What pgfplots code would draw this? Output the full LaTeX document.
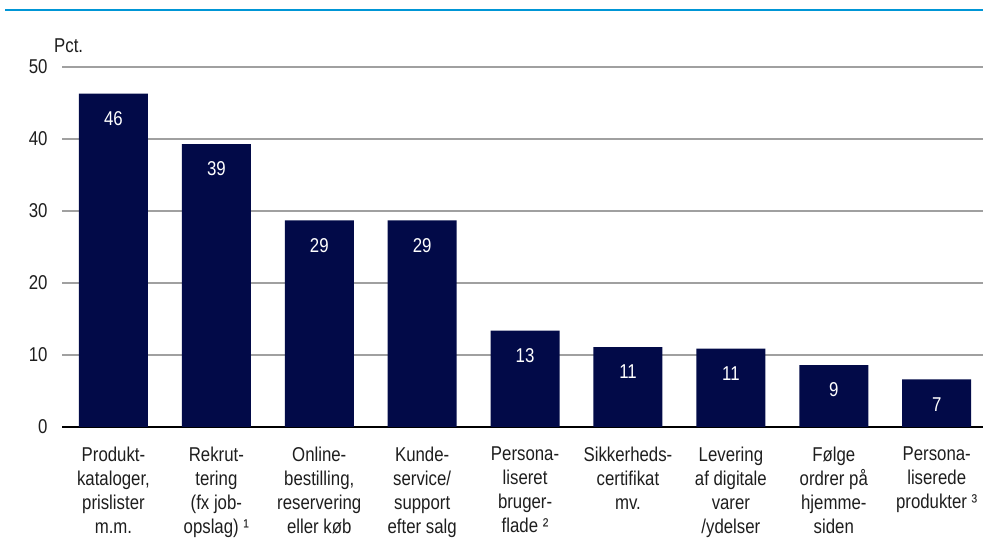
\documentclass[border=0pt]{standalone}
\usepackage{pgfplots}
\pgfplotsset{compat=1.18}
\usepackage{fontspec}
\setmainfont[FakeStretch=0.84]{Liberation Sans}
\definecolor{navy}{RGB}{2,10,72}
\definecolor{topblue}{RGB}{0,150,214}
\definecolor{gridgray}{RGB}{160,160,160}
\definecolor{txt}{RGB}{30,30,30}
\begin{document}
\begin{tikzpicture}
\path[use as bounding box] (0,0) rectangle (983pt,541pt);
\draw[topblue, line width=2.2pt] (5pt,531pt) -- (983pt,531pt);
\node[anchor=base west, text=txt, font=\fontsize{20}{22}\selectfont, inner sep=0pt] at (54pt,488pt) {Pct.};
\begin{axis}[
  at={(62pt,114pt)}, anchor=south west,
  scale only axis, width=921pt, height=360pt,
  xmin=-0.5, xmax=8.45, ymin=0, ymax=50,
  ytick={0,10,20,30,40,50},
  xtick={0,...,8},
  xticklabels={
    {Produkt-\\kataloger,\\prislister\\m.m.},
    {Rekrut-\\tering\\(fx job-\\opslag) ¹},
    {Online-\\bestilling,\\reservering\\eller køb},
    {Kunde-\\service/\\support\\efter salg},
    {Persona-\\liseret\\bruger-\\flade ²},
    {Sikkerheds-\\certifikat\\mv.},
    {Levering\\af digitale\\varer\\/ydelser},
    {Følge\\ordrer på\\hjemme-\\siden},
    {Persona-\\liserede\\produkter ³}},
  xticklabel style={align=center, anchor=north, yshift=-16pt, text=txt,
    font=\fontsize{20}{24}\selectfont},
  yticklabel style={anchor=east, xshift=-11pt, text=txt,
    font=\fontsize{20}{22}\selectfont},
  /pgf/number format/assume math mode=true,
  major tick length=0pt,
  axis x line*=bottom, axis y line*=left,
  x axis line style={black, line width=2.2pt, -},
  y axis line style={draw=none},
  ymajorgrids, grid style={gridgray, line width=1.5pt},
  clip=false,
]
\addplot[ybar, bar width=69pt, bar shift=0pt, fill=navy, draw=none,
  nodes near coords={\pgfmathprintnumber[fixed,precision=0]{\pgfplotspointmeta}},
  every node near coord/.append style={anchor=center, yshift=-25pt, text=white,
    font=\fontsize{20}{22}\selectfont}]
coordinates {(0,46.3) (1,39.3) (2,28.7) (3,28.7) (4,13.4) (5,11.1) (6,10.9) (7,8.6) (8,6.6)};
\end{axis}
\end{tikzpicture}
\end{document}
